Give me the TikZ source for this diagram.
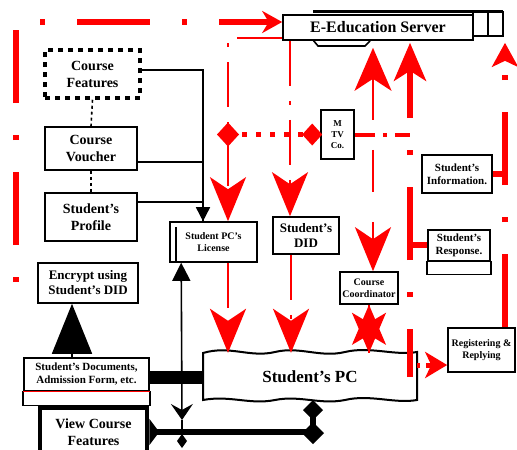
\documentclass[tikz,border=0pt]{standalone}
\usepackage{fontspec}
\setmainfont{Liberation Serif}
\usetikzlibrary{arrows.meta,calc}
\begin{document}
\begin{tikzpicture}[x=1pt,y=-1pt,
  box/.style={draw, line width=1.6pt, inner sep=1pt, align=center},
  fs/.style 2 args={font=\fontsize{#1}{#2}\selectfont\bfseries},
  blk/.style={line width=1.6pt},
  rt/.style={red, line width=6pt, dash pattern=on 73pt off 32pt on 5pt off 32pt},
  rthin/.style={red, line width=2pt, dash pattern=on 45pt off 15pt on 4pt off 15pt},
  rdash/.style={red, line width=2.5pt, dash pattern=on 42pt off 30pt},
  rdots/.style={red, line width=5pt, dash pattern=on 5pt off 9pt},
  bighead/.style={-{Stealth[length=44pt,width=36pt,inset=12pt]}},
]
\useasboundingbox (0,0) rectangle (517,450);
\fill[white] (0,0) rectangle (517,450);

% ---------- nodes ----------
\node[box, fs={16}{18}, minimum width=190pt, minimum height=25pt] (server) at (378,27.5) {E-Education Server};
\node[box, fs={14}{17}, line width=3.5pt, dash pattern=on 5pt off 5pt, minimum width=95pt, minimum height=48pt] (cf) at (92.5,74) {Course\\Features};
\node[box, fs={14}{17}, minimum width=92pt, minimum height=43pt] (cv) at (91,148.5) {Course\\Voucher};
\node[box, fs={14}{17}, minimum width=92pt, minimum height=48pt] (sp) at (91,217) {Student's\\Profile};
\node[box, fs={13}{15}, minimum width=100pt, minimum height=40pt] (enc) at (88,283) {Encrypt using\\Student's DID};
\node[box, fs={11}{13}, minimum width=125pt, minimum height=33pt, anchor=north] (docs) at (86.5,357) {Student's Documents,\\Admission Form, etc.};
\node[box, fs={14}{17}, line width=4.5pt, minimum width=107pt, minimum height=48pt] (vcf) at (93.5,432) {View Course\\Features};
\node[box, fs={10}{12}, minimum width=87pt, minimum height=40pt] (lic) at (213.5,242) {Student PC's\\License};
\node[box, fs={13}{15}, minimum width=66pt, minimum height=37pt] (did) at (306,235.5) {Student's\\DID};
\node[box, fs={9}{11}, minimum width=33pt, minimum height=49pt] (mtv) at (337.5,134.5) {M\\TV\\Co.};
\node[box, fs={10}{12}, minimum width=58pt, minimum height=32pt] (coord) at (369,288) {Course\\Coordinator};
\node[box, fs={11}{13}, minimum width=70pt, minimum height=38pt] (info) at (457,174) {Student's\\Information.};
\node[box, fs={11}{13}, minimum width=62pt, minimum height=31pt, anchor=north] (resp) at (459,229) {Student's\\Response.};
\node[box, fs={10}{12}, minimum width=67pt, minimum height=44pt] (reg) at (481.5,350) {Registering \&\\Replying};
\node[fs={17}{19}, minimum width=214pt, minimum height=48pt, inner sep=0pt] (pc) at (310,377) {Student's PC};

% ---------- shape details ----------
\draw[line width=3pt] (313,11) -- (503,11);
\draw[blk] (473,12) rectangle (488,36);
\draw[blk] (488,12) rectangle (503,36);
\draw[blk] (313,40) -- (318,46) -- (365,46) -- (370,41);
\draw[blk] (docs.south west) rectangle ([yshift=-14pt]docs.south east);
\draw[red, line width=1.6pt] (docs.south west) -- (docs.south east);
\draw[blk] (resp.south west) rectangle ([yshift=-13pt]resp.south east);
\draw[blk] ([xshift=7pt,yshift=-6pt]lic.north west) -- ([xshift=7pt]lic.south west);
\draw[line width=2pt] (203,353) .. controls (230,345) and (250,358) .. (275,352)
  .. controls (300,346) and (320,358) .. (345,352)
  .. controls (370,346) and (395,356) .. (417,352) -- (417,400)
  .. controls (395,404) and (370,394) .. (345,400)
  .. controls (320,405) and (300,395) .. (275,400)
  .. controls (250,405) and (230,395) .. (203,400) -- cycle;

% ---------- coordinates ----------
\coordinate (licin) at ([xshift=-10.5pt]lic.north);
\coordinate (licR) at ([xshift=14.5pt]lic.north);
\coordinate (licRs) at ([xshift=14.5pt]lic.south);
\coordinate (licL) at ([xshift=12pt]lic.south west);
\coordinate (srvL) at ([yshift=-10pt]server.west);
\coordinate (srvTL) at ([yshift=5.5pt]server.west);
\coordinate (s290) at ([xshift=-88pt]server.south);
\coordinate (s373) at ([xshift=-5pt,yshift=-7pt]server.south);
\coordinate (r410) at ([xshift=32pt,yshift=-2pt]server.south);
\coordinate (r505) at ([xshift=127pt,yshift=-2pt]server.south);
\coordinate (didT) at ([xshift=-16pt]did.north);
\coordinate (didB) at ([xshift=-15pt]did.south);
\coordinate (coordT) at ([xshift=4pt]coord.north);
\coordinate (regT) at ([xshift=23.5pt]reg.north);
\coordinate (regin) at ([yshift=-15pt]reg.west);
\coordinate (pcR) at ([xshift=100pt]pc.center);
\coordinate (pcb) at ([xshift=3pt,yshift=1pt]pc.south);
\coordinate (vj) at (182,420);
\coordinate (vk) at (182,441);
\coordinate (dA) at (mtv.west -| licR);
\coordinate (dB) at ([xshift=-8pt]mtv.west);

% ---------- black connectors ----------
\draw[blk, -{Triangle[length=14pt,width=14pt]}] ([yshift=4pt]cf.east) -| (licin);
\draw[blk] ([yshift=-13.5pt]cv.east) -| (licin);
\draw[blk] ([yshift=15pt]sp.east) -| (licin);
\draw[blk, dash pattern=on 3pt off 3pt] (cf.south) -- (cv.north);
\draw[blk, dash pattern=on 3pt off 3pt] (cv.south) -- (sp.north);
\draw[blk, -{Triangle[length=50pt,width=40pt]}] ($(docs.north)+(-14.5,0)$) -- ($(enc.south)+(-16,0)$);
\draw[line width=13pt] (docs.east |- pc.west) -- (pc.west);
\draw[line width=6pt, {Triangle[reversed,length=10pt,width=26pt]}-{Diamond[length=20pt,width=20pt]}] (vcf.east) -| (pcb);
\draw[blk, {Triangle[length=18pt,width=18pt]}-{Stealth[length=16pt,width=22pt,inset=6pt]}] (licL) -- (vj);
\draw[blk] (vj) -- (vk);
\fill (vk) +(-5,0) -- +(0,-7) -- +(5,0) -- +(0,7) -- cycle;
\fill (313,433) +(-11,0) -- +(0,-11) -- +(11,0) -- +(0,11) -- cycle;

% ---------- red connectors ----------
\draw[rt, dash phase=83pt, -{Stealth[length=20pt,width=22pt]}] (enc.west) -- ++(-21,0) |- (srvTL);
\draw[rt, -{Stealth[length=24pt,width=26pt,inset=6pt]}] (regT) -- (r505);
\draw[red, line width=6pt] (info.east) -- (info.east -| r505);
\draw[rt, dash phase=25pt, -{Stealth[length=38pt,width=32pt,inset=10pt]}] (pcR) -- (r410);
\draw[red, line width=6pt] (resp.west -| r410) -- (resp.west);
\draw[red, line width=5pt, dash pattern=on 3pt off 6pt on 14pt off 6pt, -{Stealth[length=22pt,width=26pt,inset=6pt]}] (regin -| pc.east) -- (regin);
\draw[rdash, {Stealth[length=43pt,width=37pt,inset=12pt]}-{Stealth[length=44pt,width=36pt,inset=12pt]}] (s373) -- (coordT);
\draw[red, line width=2pt, -{Stealth[length=40pt,width=34pt,inset=10pt]}] (coord.south) -- (coord.south |- pc.north);
\draw[red, line width=2pt, -{Stealth[length=40pt,width=34pt,inset=10pt]}] (coord.south |- pc.north) -- (coord.south);
\draw[rthin, bighead] (s290) -- (didT);
\draw[rthin, bighead] (didB) -- (didB |- pc.north);
\draw[rthin, bighead] (srvL) -| (licR);
\draw[rthin, bighead] (licRs) -- (licRs |- pc.north);
\draw[rdots] (dA) -- (mtv.west);
\draw[red, line width=4pt, dash pattern=on 20pt off 8pt on 4pt off 8pt] (mtv.east) -- (mtv.east -| r410);
\fill[red] (dA) +(-11,0) -- +(0,-12) -- +(11,0) -- +(0,12) -- cycle;
\fill[red] (dB) +(-10,0) -- +(0,-11) -- +(10,0) -- +(0,11) -- cycle;
\end{tikzpicture}
\end{document}
